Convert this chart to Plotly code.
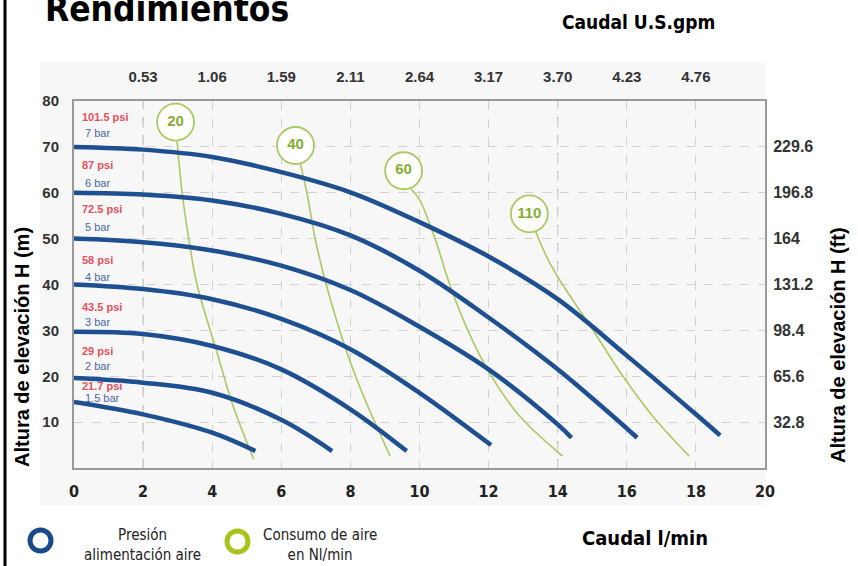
import plotly.graph_objects as go

# Curvas de presión: caudal (l/min) y altura (m)
bar_labels = ["7 bar", "6 bar", "5 bar", "4 bar", "3 bar", "2 bar", "1.5 bar"]
psi_labels = ["101.5 psi", "87 psi", "72.5 psi", "58 psi", "43.5 psi", "29 psi", "21.7 psi"]
pressure_q = [
    [0, 2, 4, 6, 8, 10, 12, 14, 16, 18, 18.7],
    [0, 2, 4, 6, 8, 10, 12, 14, 16.3],
    [0, 2, 4, 6, 8, 10, 12, 14, 14.4],
    [0, 2, 4, 6, 8, 10, 12.07],
    [0, 2, 4, 6, 8, 9.63],
    [0, 2, 4, 6, 7.47],
    [0, 2, 4, 5.25],
]
pressure_h = [
    [70, 69.4, 67.8, 64.5, 60.1, 53.6, 46.1, 36.8, 24.5, 11.7, 7.1],
    [60, 59.6, 58.3, 55.4, 50.7, 43, 32.8, 21.5, 6.6],
    [50, 49.2, 47.4, 44.1, 38.8, 30.8, 21.5, 9.5, 6.6],
    [40, 39, 36.8, 32.5, 25.9, 16.4, 5],
    [29.7, 29.2, 26.6, 21.5, 12.8, 3.7],
    [19.6, 18.6, 16.4, 10.5, 3.7],
    [14.4, 11.7, 7.7, 3.7],
]

# Consumo de aire (Nl/min); el primer punto es el centro del círculo
air_labels = ["20", "40", "60", "110"]
air_q = [
    [2.94, 2.98, 3.13, 3.32, 3.56, 4.14, 4.57, 5.2],
    [6.41, 6.55, 6.74, 6.98, 7.3, 7.9, 8.38, 9.15],
    [9.54, 9.75, 10.0, 10.45, 10.87, 11.4, 12.02, 12.89, 14.14],
    [13.18, 13.37, 13.75, 14.14, 15.0, 15.88, 16.74, 17.8],
]
air_h = [
    [75.4, 71.5, 60, 50, 40, 25.2, 14.3, 1.9],
    [70.3, 66.3, 60, 50, 40, 25.2, 15.7, 2.6],
    [64.8, 61, 58.5, 50, 40.1, 30, 20.8, 11.4, 2.6],
    [55.4, 51.4, 45, 40, 30.3, 20.1, 11.4, 2.6],
]

lpm_ticks = [0, 2, 4, 6, 8, 10, 12, 14, 16, 18, 20]
gpm_ticks = [2, 4, 6, 8, 10, 12, 14, 16, 18]
gpm_text = ["0.53", "1.06", "1.59", "2.11", "2.64", "3.17", "3.70", "4.23", "4.76"]
m_ticks = [10, 20, 30, 40, 50, 60, 70, 80]
ft_ticks = [10, 20, 30, 40, 50, 60, 70]
ft_text = ["32.8", "65.6", "98.4", "131.2", "164", "196.8", "229.6"]

BLUE = "#1d4f91"
GREEN_LINE = "#abc962"
GREEN_TEXT = "#86ad35"
NARROW = "DejaVu Sans Condensed, sans-serif"
SANS = "Liberation Sans, Arial, sans-serif"

W, H = 858, 566
L, R, T, B = 74, 93, 101, 98
PW, PH = W - L - R, H - T - B


def px(x):
    return (x - L) / PW


def py(y):
    return (H - B - y) / PH


fig = go.Figure()

for q, h in zip(air_q, air_h):
    fig.add_trace(go.Scatter(x=q, y=h, mode="lines", line=dict(color=GREEN_LINE, width=1.6, shape="spline"),
                             hoverinfo="skip", showlegend=False))

fig.add_trace(go.Scatter(x=[q[0] for q in air_q], y=[h[0] for h in air_h], mode="markers+text",
                         text=air_labels, textposition="middle center",
                         textfont=dict(family=SANS, size=15, color=GREEN_TEXT, weight="bold"),
                         marker=dict(size=37, color="white", line=dict(color=GREEN_LINE, width=1.8)),
                         hoverinfo="skip", showlegend=False))

for name, q, h in zip(bar_labels, pressure_q, pressure_h):
    fig.add_trace(go.Scatter(x=q, y=h, mode="lines", name=name, line=dict(color=BLUE, width=4.5, shape="spline"),
                             showlegend=False))

# traza invisible para activar los ejes secundarios
fig.add_trace(go.Scatter(x=pressure_q[0], y=pressure_h[0], xaxis="x2", yaxis="y2", mode="lines",
                         opacity=0, hoverinfo="skip", showlegend=False))

annotations = []
psi_y = [76.6, 66.0, 56.4, 45.3, 35.2, 25.5, 17.9]
bar_y = [73.0, 62.2, 52.5, 41.7, 31.8, 22.3, 15.3]
for txt, yy in zip(psi_labels, psi_y):
    annotations.append(dict(x=0.17, y=yy, xref="x", yref="y", text=txt, xanchor="left",
                            font=dict(family=SANS, size=11, color="#e5505c", weight="bold")))
for txt, yy in zip(bar_labels, bar_y):
    annotations.append(dict(x=0.26, y=yy, xref="x", yref="y", text=txt, xanchor="left",
                            font=dict(family=SANS, size=11, color="#4a68ad")))

annotations += [
    dict(x=px(43), y=py(9), text="Rendimientos", xanchor="left",
         font=dict(family=NARROW, size=35, color="black", weight="bold")),
    dict(x=px(638), y=py(22), text="Caudal U.S.gpm",
         font=dict(family=NARROW, size=19, color="black", weight="bold")),
    dict(x=px(645), y=py(538), text="Caudal l/min",
         font=dict(family=NARROW, size=20, color="black", weight="bold")),
    dict(x=px(22), y=py(347), text="Altura de elevación H (m)", textangle=-90,
         font=dict(family=SANS, size=20, color="black", weight="bold")),
    dict(x=px(838), y=py(345), text="Altura de elevación H (ft)", textangle=-90,
         font=dict(family=SANS, size=20, color="black", weight="bold")),
    dict(x=px(142), y=py(545), text="Presión<br>alimentación aire",
         font=dict(family=NARROW, size=15, color="#222")),
    dict(x=px(320), y=py(545), text="Consumo de aire<br>en Nl/min",
         font=dict(family=NARROW, size=15, color="#222")),
]
for a in annotations:
    a.setdefault("xref", "paper")
    a.setdefault("yref", "paper")
    a.setdefault("xanchor", "center")
    a.setdefault("yanchor", "middle")
    a["showarrow"] = False

shapes = [
    dict(type="rect", xref="paper", yref="paper", x0=px(40), x1=px(765), y0=py(505), y1=py(62),
         fillcolor="#f7f7f7", line=dict(width=0), layer="below"),
    dict(type="line", xref="paper", yref="paper", x0=px(5), x1=px(5), y0=py(566), y1=py(0),
         line=dict(color="black", width=3)),
    dict(type="circle", xref="paper", yref="paper", x0=px(30), x1=px(51), y0=py(551), y1=py(530),
         line=dict(color="#17498c", width=5)),
    dict(type="circle", xref="paper", yref="paper", x0=px(227), x1=px(248), y0=py(552), y1=py(531),
         line=dict(color="#a7c41c", width=5)),
]
for q in (2, 14):
    shapes.append(dict(type="line", xref="x", yref="paper", x0=q, x1=q, y0=0, y1=1,
                       line=dict(color="#a8a8a8", width=1, dash="dash"), layer="below"))

tick_font = dict(family=SANS, size=15, color="#333", weight="bold")
fig.update_layout(
    width=W, height=H, autosize=False,
    margin=dict(l=L, r=R, t=T, b=B),
    paper_bgcolor="white", plot_bgcolor="white",
    annotations=annotations, shapes=shapes,
    xaxis=dict(range=[0, 20], tickvals=lpm_ticks, showgrid=True, gridcolor="#d2d2d2", griddash="dash",
               zeroline=False, showline=True, mirror=True, linecolor="#9a9a9a", linewidth=2,
               ticks="outside", ticklen=8, tickcolor="rgba(0,0,0,0)",
               tickfont=dict(family=NARROW, size=16, color="#222", weight="bold")),
    yaxis=dict(range=[0, 80], tickvals=m_ticks, showgrid=True, gridcolor="#d2d2d2", griddash="dash",
               zeroline=False, showline=True, mirror=True, linecolor="#9a9a9a", linewidth=2,
               ticks="outside", ticklen=10, tickcolor="rgba(0,0,0,0)", tickfont=tick_font),
    xaxis2=dict(range=[0, 20], overlaying="x", side="top", tickvals=gpm_ticks, ticktext=gpm_text,
                showgrid=False, zeroline=False, ticks="outside", ticklen=12, tickcolor="rgba(0,0,0,0)",
                tickfont=tick_font),
    yaxis2=dict(range=[0, 80], overlaying="y", side="right", tickvals=ft_ticks, ticktext=ft_text,
                showgrid=False, zeroline=False, ticks="outside", ticklen=4, tickcolor="rgba(0,0,0,0)",
                tickfont=dict(family=SANS, size=16, color="#333", weight="bold")),
)

fig.write_html("out.html", config={"displayModeBar": False},
               post_script="document.body.style.margin = '0px';")
